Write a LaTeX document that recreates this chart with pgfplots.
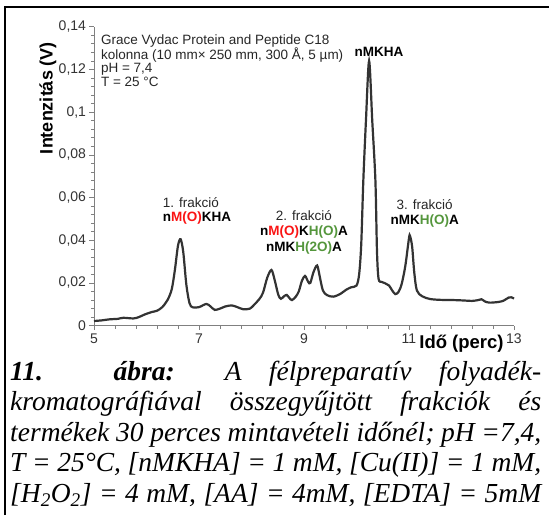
\documentclass[border=0pt]{standalone}
\usepackage{fontspec}
\setmainfont{Liberation Sans}
\newfontfamily\capfont{Liberation Serif}
\usepackage{pgfplots}
\pgfplotsset{compat=1.18}
\definecolor{myred}{RGB}{250,20,20}
\definecolor{mygreen}{RGB}{84,150,60}
\begin{document}
\begin{tikzpicture}
\path[use as bounding box] (0,0) rectangle (549pt,515pt);
\draw[line width=2pt] (5pt,0) -- (5pt,508pt) -- (550pt,508pt);
\begin{axis}[
  at={(94pt,189.3pt)}, anchor=south west,
  scale only axis, width=420pt, height=299pt,
  xmin=5, xmax=13, ymin=0, ymax=0.14,
  axis lines*=left,
  xtick={5,7,9,11,13}, xticklabels={5,7,9,11,13},
  minor x tick num=4,
  ytick={0,0.02,0.04,0.06,0.08,0.1,0.12,0.14},
  yticklabels={0,{0,02},{0,04},{0,06},{0,08},{0,1},{0,12},{0,14}},
  minor y tick num=4,
  tick align=outside,
  major tick length=4.5pt, minor tick length=3pt,
  tick style={gray, line width=0.6pt},
  axis line style={gray, line width=0.8pt},
  ticklabel style={font=\fontsize{14}{14}\selectfont, text=black!80},
  clip=false,
]
\addplot[smooth, tension=0.5, line width=2.2pt, color=black!80] table[x=t, y=v] {
t v
5.00 0.0022
5.15 0.0025
5.30 0.0030
5.45 0.0032
5.56 0.0037
5.75 0.0034
5.85 0.0040
5.97 0.0053
6.10 0.0064
6.20 0.0070
6.30 0.0087
6.40 0.0120
6.48 0.0170
6.54 0.0260
6.60 0.0375
6.65 0.0405
6.70 0.0345
6.76 0.0190
6.82 0.0105
6.88 0.0086
7.00 0.0087
7.14 0.0102
7.22 0.0090
7.30 0.0074
7.40 0.0080
7.50 0.0090
7.62 0.0095
7.72 0.0088
7.84 0.0077
7.97 0.0080
8.05 0.0098
8.15 0.0125
8.22 0.0155
8.30 0.0225
8.38 0.0261
8.44 0.0215
8.51 0.0145
8.56 0.0126
8.62 0.0138
8.67 0.0144
8.72 0.0130
8.77 0.0120
8.84 0.0135
8.90 0.0160
8.96 0.0210
9.02 0.0233
9.08 0.0205
9.12 0.0200
9.18 0.0250
9.25 0.0282
9.30 0.0230
9.36 0.0165
9.44 0.0143
9.56 0.0136
9.70 0.0150
9.80 0.0168
9.90 0.0180
10.00 0.0188
10.05 0.0240
10.09 0.0380
10.13 0.0680
10.18 0.0960
10.24 0.1240
10.30 0.0960
10.36 0.0680
10.39 0.0350
10.42 0.0220
10.48 0.0205
10.55 0.0198
10.62 0.0188
10.68 0.0165
10.74 0.0148
10.80 0.0158
10.86 0.0195
10.93 0.0280
11.00 0.0410
11.02 0.0420
11.06 0.0370
11.10 0.0250
11.15 0.0165
11.25 0.0138
11.40 0.0125
11.60 0.0121
11.85 0.0120
12.05 0.0118
12.20 0.0116
12.32 0.0120
12.38 0.0124
12.45 0.0113
12.54 0.0108
12.70 0.0111
12.80 0.0117
12.90 0.0132
12.95 0.0133
13.00 0.0127
};
\node[anchor=north west, align=left, inner sep=0pt, font=\fontsize{13.5}{13.2}\selectfont, text=black!85] at (axis cs:5.13,0.1365) {Grace Vydac Protein and Peptide C18\\kolonna (10 mm× 250 mm, 300 Å, 5 µm)\\pH = 7,4\\T = 25 °C};
\node[inner sep=0pt, font=\fontsize{13.5}{13}\selectfont\bfseries] at (axis cs:10.43,0.128) {nMKHA};
\node[anchor=west, align=left, inner sep=0pt, font=\fontsize{13.5}{14.5}\selectfont, text=black!85] at (axis cs:6.31,0.0538) {1. frakció\\\textbf{\color{black}n\textcolor{myred}{M(O)}KHA}};
\node[align=center, inner sep=0pt, font=\fontsize{13.5}{15.5}\selectfont, text=black!85] at (axis cs:9.0,0.0439) {2. frakció\\\textbf{\color{black}n\textcolor{myred}{M(O)}K\textcolor{mygreen}{H(O)}A}\\\textbf{\color{black}nMK\textcolor{mygreen}{H(2O)}A}};
\node[align=center, inner sep=0pt, font=\fontsize{13.5}{15.5}\selectfont, text=black!85] at (axis cs:11.3,0.0526) {3. frakció\\\textbf{\color{black}nMK\textcolor{mygreen}{H(O)}A}};
\node[anchor=base, inner sep=0pt, font=\fontsize{18.5}{19}\selectfont\bfseries] at (axis cs:12.0,-0.0109) {Idő (perc)};
\end{axis}
\node[rotate=90, inner sep=0pt, font=\fontsize{18}{18}\selectfont\bfseries] at (48pt,417pt) {Intenzitás (V)};
\begin{scope}[every node/.style={anchor=base west, inner sep=0pt, font=\capfont\itshape\fontsize{27.5}{30}\selectfont}]
\node at (10pt,135pt) {\makebox[531pt][s]{\textbf{11.} \textbf{ábra:} A félpreparatív folyadék-}};
\node at (10pt,104.5pt) {\makebox[531pt][s]{kromatográfiával összegyűjtött frakciók és}};
\node at (10pt,74pt) {\makebox[531pt][s]{termékek 30 perces mintavételi időnél; pH =7,4,}};
\node at (10pt,43.5pt) {\makebox[531pt][s]{T = 25°C, [nMKHA] = 1 mM, [Cu(II)] = 1 mM,}};
\node at (10pt,13pt) {\makebox[531pt][s]{[H\textsubscript{2}O\textsubscript{2}] = 4 mM, [AA] = 4mM, [EDTA] = 5mM}};
\end{scope}
\end{tikzpicture}
\end{document}
